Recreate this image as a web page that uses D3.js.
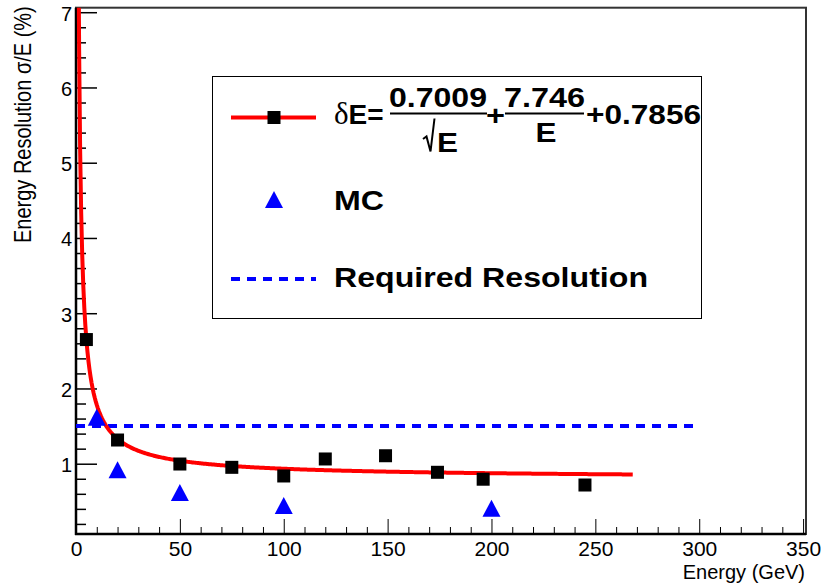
<!DOCTYPE html>
<html>
<head>
<meta charset="utf-8">
<script src="https://cdn.jsdelivr.net/npm/d3@7"></script>
<style>
  body { margin: 0; background: #fff; }
  text { font-family: "Liberation Sans", Arial, sans-serif; }
</style>
</head>
<body>
<div id="chart"></div>
<script>
// measured points (black squares)
const measEnergy = [5, 20, 50, 75, 100, 120, 149, 174, 196, 245];
const measResolution = [2.65, 1.315, 0.996, 0.952, 0.837, 1.063, 1.106, 0.886, 0.794, 0.717];

// MC points (blue triangles)
const mcEnergy = [10, 20, 50, 100, 200];
const mcResolution = [1.617, 0.92, 0.617, 0.445, 0.408];

// fit: dE = p0/sqrt(E) + p1/E + p2
const fitParams = [0.7009, 7.746, 0.7856];
const fitRange = [1.2, 268];

// required resolution line
const requiredRes = 1.5;
const requiredRange = [0, 300];

const xTicks = [0, 50, 100, 150, 200, 250, 300, 350];
const yTicks = [1, 2, 3, 4, 5, 6, 7];

const W = 821, H = 585;
const svg = d3.select("#chart").append("svg")
    .attr("width", W)
    .attr("height", H);

svg.append("rect").attr("width", W).attr("height", H).attr("fill", "#fff");

const x = d3.scaleLinear().domain([0, 351.4]).range([76, 806]);
const y = d3.scaleLinear().domain([0.066, 7.06]).range([534, 7.7]);

svg.append("clipPath").attr("id", "plotclip")
  .append("rect")
    .attr("x", x.range()[0]).attr("y", y.range()[1])
    .attr("width", x.range()[1] - x.range()[0])
    .attr("height", y.range()[0] - y.range()[1]);

// frame
svg.append("rect")
    .attr("x", x.range()[0]).attr("y", y.range()[1])
    .attr("width", x.range()[1] - x.range()[0])
    .attr("height", y.range()[0] - y.range()[1])
    .attr("fill", "none")
    .attr("stroke", "#333")
    .attr("stroke-width", 2);

// y axis, ticks pointing inside
const yMinor = d3.range(0.2, 7.01, 0.2).filter(v => Math.abs(v - Math.round(v)) > 0.01);
svg.append("g")
    .attr("transform", `translate(${x.range()[0]},0)`)
    .call(d3.axisLeft(y).tickValues(yMinor).tickSizeInner(-10).tickSizeOuter(0).tickFormat(""))
    .call(g => g.select(".domain").remove())
    .selectAll("line").attr("stroke-width", 1.5);

const yAxis = svg.append("g")
    .attr("transform", `translate(${x.range()[0]},0)`)
    .call(d3.axisLeft(y).tickValues(yTicks).tickSizeInner(-21).tickSizeOuter(0).tickPadding(4).tickFormat(d3.format("d")));
yAxis.select(".domain").remove();
yAxis.selectAll("line").attr("stroke-width", 1.5);
yAxis.selectAll("text")
    .attr("dy", "0.4em")
    .style("font-size", "20px")
    .style("font-family", "Liberation Sans, Arial, sans-serif")
    .attr("fill", "#000");

// x axis, ticks pointing up
const xMinor = d3.range(10, 351, 10).filter(v => v % 50 !== 0);
svg.append("g")
    .attr("transform", `translate(0,${y.range()[0]})`)
    .call(d3.axisBottom(x).tickValues(xMinor).tickSizeInner(-7).tickSizeOuter(0).tickFormat(""))
    .call(g => g.select(".domain").remove());

const xAxis = svg.append("g")
    .attr("transform", `translate(0,${y.range()[0]})`)
    .call(d3.axisBottom(x).tickValues(xTicks).tickSizeInner(-15).tickSizeOuter(0).tickPadding(7).tickFormat(d3.format("d")));
xAxis.select(".domain").remove();
xAxis.selectAll("text")
    .style("font-size", "21px")
    .style("font-family", "Liberation Sans, Arial, sans-serif")
    .attr("fill", "#000");

// axis lines
svg.append("line")
    .attr("x1", x.range()[0]).attr("x2", x.range()[0])
    .attr("y1", y.range()[0] + 1).attr("y2", y.range()[1])
    .attr("stroke", "#000").attr("stroke-width", 2.5);
svg.append("line")
    .attr("x1", x.range()[0] - 1).attr("x2", x.range()[1])
    .attr("y1", y.range()[0]).attr("y2", y.range()[0])
    .attr("stroke", "#000").attr("stroke-width", 2.5);

// axis titles
svg.append("text")
    .attr("x", 805).attr("y", 579)
    .attr("text-anchor", "end")
    .style("font-size", "20px")
    .text("Energy (GeV)");

svg.append("text")
    .attr("transform", "translate(31,243) rotate(-90) scale(1,1.2)")
    .attr("text-anchor", "start")
    .style("font-size", "20px")
    .text("Energy Resolution σ/E (%)");

const plot = svg.append("g").attr("clip-path", "url(#plotclip)");

// required resolution
plot.append("line")
    .attr("x1", x(requiredRange[0])).attr("x2", x(requiredRange[1]))
    .attr("y1", y(requiredRes)).attr("y2", y(requiredRes))
    .attr("stroke", "#0000ff")
    .attr("stroke-width", 4)
    .attr("stroke-dasharray", "9,7");

// fit curve (the function given in the legend)
const fitFn = e => fitParams[0] / Math.sqrt(e) + fitParams[1] / e + fitParams[2];
const logE = d3.scaleLog().domain(fitRange);
const fitE = logE.ticks(400).filter(e => e >= fitRange[0] && e <= fitRange[1]);
fitE.unshift(fitRange[0]);
fitE.push(fitRange[1]);
const curve = d3.line().x(e => x(e)).y(e => y(fitFn(e)));
plot.append("path")
    .datum(fitE)
    .attr("d", curve)
    .attr("fill", "none")
    .attr("stroke", "#ff0000")
    .attr("stroke-width", 4);

// squares
const sq = 13;
plot.selectAll(".meas")
    .data(measEnergy.map((e, i) => [e, measResolution[i]]))
    .enter().append("rect")
    .attr("class", "meas")
    .attr("x", d => x(d[0]) - sq / 2)
    .attr("y", d => y(d[1]) - sq / 2)
    .attr("width", sq)
    .attr("height", sq)
    .attr("fill", "#000");

// triangles
const triW = 18, triH = 17;
const triPath = `M0,${-triH / 2}L${triW / 2},${triH / 2}L${-triW / 2},${triH / 2}Z`;
plot.selectAll(".mc")
    .data(mcEnergy.map((e, i) => [e, mcResolution[i]]))
    .enter().append("path")
    .attr("class", "mc")
    .attr("transform", d => `translate(${x(d[0])},${y(d[1])})`)
    .attr("d", triPath)
    .attr("fill", "#0000ff");

// legend
const leg = svg.append("g");
leg.append("rect")
    .attr("x", 212.5).attr("y", 76.5)
    .attr("width", 489).attr("height", 242)
    .attr("fill", "#fff")
    .attr("stroke", "#000")
    .attr("stroke-width", 1);

leg.append("line")
    .attr("x1", 231).attr("x2", 316).attr("y1", 117.5).attr("y2", 117.5)
    .attr("stroke", "#ff0000").attr("stroke-width", 4);
leg.append("rect")
    .attr("x", 274 - sq / 2).attr("y", 117.5 - sq / 2)
    .attr("width", sq).attr("height", sq)
    .attr("fill", "#000");

leg.append("path")
    .attr("transform", "translate(274,199.5)")
    .attr("d", triPath)
    .attr("fill", "#0000ff");

leg.append("line")
    .attr("x1", 231).attr("x2", 316).attr("y1", 279).attr("y2", 279)
    .attr("stroke", "#0000ff").attr("stroke-width", 4)
    .attr("stroke-dasharray", "9,7");

const bold = (t, px, py, len, anchor) => {
    const el = leg.append("text")
        .attr("x", px).attr("y", py)
        .attr("text-anchor", anchor || "start")
        .style("font-size", "28px")
        .style("font-weight", "bold")
        .text(t);
    if (len) el.attr("textLength", len).attr("lengthAdjust", "spacingAndGlyphs");
    return el;
};

// formula
const de = leg.append("text")
    .attr("x", 334).attr("y", 123.5)
    .style("font-size", "28px")
    .style("font-weight", "bold");
de.append("tspan")
    .style("font-family", "Liberation Serif, Times New Roman, serif")
    .style("font-weight", "normal")
    .style("font-size", "31px")
    .text("δ");
de.append("tspan").text("E=");

bold("0.7009", 389, 106.5, 98);
leg.append("line").attr("x1", 390).attr("x2", 487).attr("y1", 113.5).attr("y2", 113.5)
    .attr("stroke", "#000").attr("stroke-width", 2);
leg.append("path")
    .attr("d", "M423,139 L426.5,136.5 L430.5,151.5 L434.5,118.5")
    .attr("fill", "none").attr("stroke", "#000").attr("stroke-width", 2);
bold("E", 437, 151.5, 21);

bold("+", 486, 125, 19);

bold("7.746", 504, 106.5, 81);
leg.append("line").attr("x1", 505).attr("x2", 584).attr("y1", 113.5).attr("y2", 113.5)
    .attr("stroke", "#000").attr("stroke-width", 2);
bold("E", 535.5, 141.5, 21);

bold("+0.7856", 586, 123.5, 115);

bold("MC", 334, 210, 50);
bold("Required Resolution", 334, 286.5, 314);
</script>
</body>
</html>
